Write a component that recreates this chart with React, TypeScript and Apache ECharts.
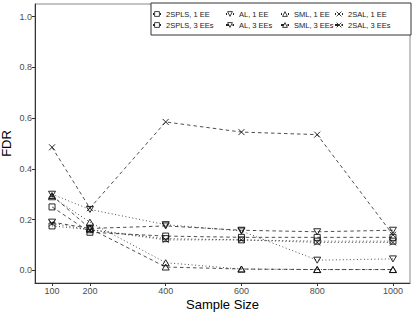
import { useEffect, useRef } from "react";
import * as echarts from "echarts";

const sampleSizes = [100, 200, 400, 600, 800, 1000];
const xTicks = [100, 200, 400, 600, 800, 1000];
const yTicks = [0, 0.2, 0.4, 0.6, 0.8, 1.0];
const methods = ["2SPLS", "AL", "SML", "2SAL"];
const eeLabels = ["1 EE", "3 EEs"];

const fdr2SPLS1 = [0.175, 0.16, 0.125, 0.12, 0.115, 0.115];
const fdr2SPLS3 = [0.25, 0.15, 0.135, 0.13, 0.13, 0.13];
const fdrAL1 = [0.3, 0.24, 0.18, 0.155, 0.04, 0.045];
const fdrAL3 = [0.19, 0.165, 0.175, 0.158, 0.152, 0.158];
const fdrSML1 = [0.29, 0.19, 0.03, 0.005, 0.003, 0.003];
const fdrSML3 = [0.295, 0.165, 0.013, 0.005, 0.003, 0.003];
const fdr2SAL1 = [0.185, 0.16, 0.12, 0.12, 0.11, 0.11];
const fdr2SAL3 = [0.485, 0.245, 0.585, 0.545, 0.535, 0.14];

const values: Record<string, number[][]> = {
  "2SPLS": [fdr2SPLS1, fdr2SPLS3],
  AL: [fdrAL1, fdrAL3],
  SML: [fdrSML1, fdrSML3],
  "2SAL": [fdr2SAL1, fdr2SAL3],
};

const symbols: Record<string, any> = {
  "2SPLS": { symbol: "rect", size: 6 },
  AL: { symbol: "path://M0,0L10,0L5,8.66Z", size: [7, 6] },
  SML: { symbol: "triangle", size: [7, 6] },
  "2SAL": { symbol: "path://M0,0L10,10M0,10L10,0", size: 6 },
};

const dashes = [[1, 2.5], [3.5, 3]];

export default function App() {
  const ref = useRef<HTMLDivElement>(null);
  useEffect(() => {
    if (!ref.current) return;
    const chart = echarts.init(ref.current, null, { renderer: "svg" });
    const font = "'Liberation Sans', Arial, Helvetica, sans-serif";
    const series: any[] = [];
    methods.forEach((m) => {
      eeLabels.forEach((ee, k) => {
        series.push({
          name: `${m}, ${ee}`,
          type: "line",
          data: sampleSizes.map((s, i) => [s, values[m][k][i]]),
          symbol: symbols[m].symbol,
          symbolSize: symbols[m].size,
          showAllSymbol: true,
          lineStyle: { color: "#222", width: 0.8, type: dashes[k] },
          itemStyle: { color: "rgba(255,255,255,0)", borderColor: "#111", borderWidth: 0.9 },
          emphasis: { disabled: true },
          z: 3,
        });
      });
    });
    const legendLefts = [152, 225, 280, 334];
    const legends = methods.map((m, i) => ({
      orient: "vertical",
      left: legendLefts[i],
      top: 10,
      padding: 0,
      itemGap: 3,
      itemWidth: 8,
      itemHeight: 6,
      data: eeLabels.map((ee) => `${m}, ${ee}`),
      itemStyle: { color: "#fff", borderColor: "#111", borderWidth: 0.8 },
      textStyle: { fontFamily: font, fontSize: 7.5, color: "#1a1a1a" },
      selectedMode: false,
    }));
    chart.setOption({
      animation: false,
      backgroundColor: "#fff",
      textStyle: { fontFamily: font },
      grid: {
        left: 35,
        right: 5,
        top: 4,
        bottom: 29,
        containLabel: false,
        outerBoundsMode: "none",
        show: true,
        borderColor: "#8a8a8a",
        borderWidth: 1,
        backgroundColor: "#fff",
      },
      graphic: [
        {
          type: "rect",
          shape: { x: 151, y: 3, width: 260, height: 32 },
          style: { fill: "#fff", stroke: "#333", lineWidth: 1 },
          z: 1,
        },
      ],
      legend: legends,
      xAxis: {
        type: "value",
        min: 55,
        max: 1045,
        name: "Sample Size",
        nameLocation: "middle",
        nameGap: 15,
        nameMoveOverlap: false,
        nameTextStyle: { fontFamily: font, fontSize: 13, color: "#000" },
        axisLine: { show: true, onZero: false, lineStyle: { color: "#333", width: 1 } },
        axisTick: { show: true, customValues: xTicks, length: 3, lineStyle: { color: "#333" } },
        axisLabel: {
          customValues: xTicks,
          fontFamily: font,
          fontSize: 9,
          color: "#4d4d4d",
          margin: 3,
          formatter: (v: number) => String(v),
        },
        splitLine: { show: false },
      },
      yAxis: {
        type: "value",
        min: -0.05,
        max: 1.05,
        name: "FDR",
        nameLocation: "middle",
        nameGap: 22,
        nameMoveOverlap: false,
        nameTextStyle: { fontFamily: font, fontSize: 13, color: "#000" },
        axisLine: { show: true, onZero: false, lineStyle: { color: "#333", width: 1 } },
        axisTick: { show: true, customValues: yTicks, length: 3, lineStyle: { color: "#333" } },
        axisLabel: {
          customValues: yTicks,
          fontFamily: font,
          fontSize: 9,
          color: "#4d4d4d",
          margin: 3,
          formatter: (v: number) => v.toFixed(1),
        },
        splitLine: { show: false },
      },
      series,
    });
    return () => chart.dispose();
  }, []);
  return <div ref={ref} style={{ width: 415, height: 312, position: "absolute", left: 0, top: 0 }} />;
}
